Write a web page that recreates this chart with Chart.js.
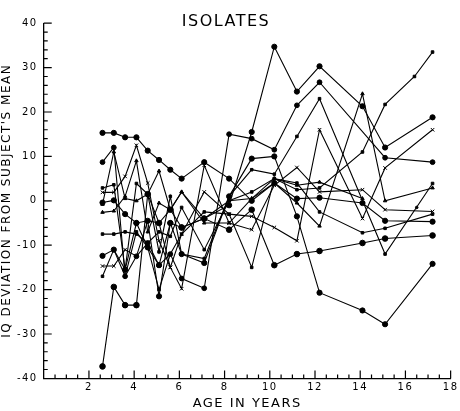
<!DOCTYPE html>
<html>
<head>
<meta charset="utf-8">
<script src="https://cdn.jsdelivr.net/npm/chart.js@4.4.0/dist/chart.umd.min.js"></script>
<style>
  html, body { margin: 0; padding: 0; background: #fff; }
  #wrap { width: 460px; height: 411px; }
</style>
</head>
<body>
<div id="wrap"><canvas id="isolatesChart" width="460" height="411"></canvas></div>
<script>
// test ages (years) shared by all subjects
const ages = [2.6, 3.1, 3.6, 4.1, 4.6, 5.1, 5.6, 6.1, 7.1, 8.2, 9.2, 10.2, 11.2, 12.2, 14.1, 15.1, 16.4, 17.2];

// IQ deviation from each subject's mean, one array per subject (null = not tested)
const subjA = [-0.4, 0.1, -3, -5, -4.5, -21.5, -5, -6, -4, -1, 15.5, 34.7, 24.6, 30.3, 21.3, 12, null, 18.8];
const subjB = [8.7, 12, -17, -12.5, -9.5, -14.5, -12, -17.5, -19.7, 15, 14, 11.5, 21.5, 26.7, null, 9.7, null, 8.7];
const subjC = [2.9, 3.6, -15.5, 3.9, 1.5, -11.5, 1, -12, -13, 1, 7, 6, 14.5, 23, null, -12, null, 3.9];
const subjD = [1.9, 1.9, 5.5, 12.5, 4, -9, -15, -7.5, 2, -3, -3.5, -6, -9, 16, -4, 7.4, null, 16];
const subjE = [-2.6, -2.3, 1, 9, -7, -0.5, -2, 2, -5, -5, 0.5, 4, -0.5, -5.7, 24.1, 0, null, 2.9];
const subjF = [-7.5, -7.5, -7, -7.5, -9.5, -7, -8, -1.5, -11, 0, 2, 5, 2.5, 2.9, 11, 21.7, 28, 33.5];
const subjG = [-37.3, -19.4, -23.5, -23.5, 1.5, -5, -2, -6, -4, -6.5, -2, -14.5, -12, -11.3, -9.5, -8.5, null, -7.8];
const subjH = [-12.4, -11, -15.5, -5, -10.5, -14.5, -5, -12, -14, 1, 9.5, 10, -3.5, -20.7, -24.7, -27.8, null, -14.2];
const subjI = [-14.7, -14.7, -11, -12.5, -4.5, -5, -15, -19.8, 8, -5, -6.5, 3.5, 7.5, 2, 2.5, -2, null, -2.4];
const subjJ = [15.3, 15.3, 14.3, 14.3, 11.3, 9.2, 7, 5, 8.7, 5, 0, 4, 0.5, 0.7, -0.5, -4.5, null, -4.7];
const subjK = [-17, -11, -17, -7, -10.5, -20, -12, -7.5, -2.5, -3, -15, 5, 4, -2.5, -7.2, -6.2, null, -3];
const subjL = [-0.8, 11, 0.5, 0, 1.5, 6.7, -2, 2, -4, 0, 0.5, 5, 3.5, 4.2, 0.5, null, null, null];

// lone point near age 16.5
const strayAges = [16.5];
const strayValues = [-1.5];

// axis tick labels
const xTickValues = [2, 4, 6, 8, 10, 12, 14, 16, 18];
const yTickValues = [-40, -30, -20, -10, 0, 10, 20, 30, 40];
const xMinorStep = 0.5;
const yMinorStep = 2;

Chart.defaults.font.family = "DejaVu Sans";
Chart.defaults.color = "#000";

function toPoints(xs, ys) {
  const pts = [];
  xs.forEach(function (x, i) {
    if (ys[i] !== null && ys[i] !== undefined) pts.push({ x: x, y: ys[i] });
  });
  return pts;
}

function subjectDataset(name, values, style, radius) {
  return {
    label: name,
    data: toPoints(ages, values),
    borderColor: "#000",
    borderWidth: 1.1,
    pointStyle: style,
    pointRadius: radius,
    pointBackgroundColor: "#000",
    pointBorderColor: "#000",
    pointBorderWidth: 1,
    tension: 0,
    fill: false
  };
}

// ticks pointing into the plot, long ones at labelled values
const inwardTicks = {
  id: "inwardTicks",
  afterDatasetsDraw(chart) {
    const { ctx, chartArea, scales } = chart;
    const xs = scales.x, ys = scales.y;
    ctx.save();
    ctx.strokeStyle = "#000";
    ctx.lineWidth = 1.2;
    ctx.beginPath();
    for (let v = xs.min + xMinorStep; v <= xs.max + 1e-6; v += xMinorStep) {
      const px = xs.getPixelForValue(v);
      const major = xTickValues.some(t => Math.abs(t - v) < 1e-6);
      ctx.moveTo(px, chartArea.bottom);
      ctx.lineTo(px, chartArea.bottom - (major ? 8 : 4));
    }
    for (let v = ys.min + yMinorStep; v <= ys.max + 1e-6; v += yMinorStep) {
      const py = ys.getPixelForValue(v);
      const major = yTickValues.some(t => Math.abs(t - v) < 1e-6);
      ctx.moveTo(chartArea.left, py);
      ctx.lineTo(chartArea.left + (major ? 8 : 4), py);
    }
    ctx.stroke();
    ctx.restore();
  }
};

const spacedText = {
  id: "spacedText",
  beforeDraw(chart) {
    chart.ctx.letterSpacing = "1.5px";
  }
};

const datasets = [
  subjectDataset("A", subjA, "circle", 2.6),
  subjectDataset("B", subjB, "circle", 2.4),
  subjectDataset("C", subjC, "rect", 1.8),
  subjectDataset("D", subjD, "crossRot", 2.5),
  subjectDataset("E", subjE, "triangle", 2),
  subjectDataset("F", subjF, "rect", 1.8),
  subjectDataset("G", subjG, "circle", 2.8),
  subjectDataset("H", subjH, "circle", 2.6),
  subjectDataset("I", subjI, "crossRot", 2.5),
  subjectDataset("J", subjJ, "circle", 2.6),
  subjectDataset("K", subjK, "rect", 1.8),
  subjectDataset("L", subjL, "triangle", 2),
  {
    label: "stray",
    data: toPoints(strayAges, strayValues),
    showLine: false,
    pointStyle: "circle",
    pointRadius: 1.3,
    pointBackgroundColor: "#000",
    pointBorderColor: "#000"
  }
];

new Chart(document.getElementById("isolatesChart"), {
  type: "line",
  data: { datasets: datasets },
  plugins: [inwardTicks, spacedText],
  options: {
    responsive: false,
    animation: false,
    layout: { padding: { left: 0, right: 8, top: 0, bottom: 0 } },
    plugins: {
      legend: { display: false },
      tooltip: { enabled: false },
      title: {
        display: true,
        text: "ISOLATES",
        color: "#000",
        font: { size: 16, weight: "normal" },
        padding: { top: 12, bottom: -8 }
      }
    },
    scales: {
      x: {
        type: "linear",
        min: 0,
        max: 18,
        afterBuildTicks: function (scale) {
          scale.ticks = xTickValues.map(v => ({ value: v }));
        },
        ticks: {
          font: { size: 10 },
          padding: 3,
          maxRotation: 0,
          autoSkip: false
        },
        grid: { display: false, drawTicks: false },
        border: { display: true, color: "#000", width: 1.3 },
        title: {
          display: true,
          text: "AGE IN YEARS",
          font: { size: 13 },
          padding: { top: -1, bottom: 0 }
        }
      },
      y: {
        type: "linear",
        min: -40,
        max: 40,
        afterBuildTicks: function (scale) {
          scale.ticks = yTickValues.map(v => ({ value: v }));
        },
        ticks: {
          font: { size: 10 },
          padding: 6,
          autoSkip: false
        },
        grid: { display: false, drawTicks: false },
        border: { display: true, color: "#000", width: 1.3 },
        title: {
          display: true,
          text: "IQ DEVIATION FROM SUBJECT'S MEAN",
          font: { size: 12 },
          padding: { top: 0, bottom: 1 }
        }
      }
    }
  }
});
</script>
</body>
</html>
